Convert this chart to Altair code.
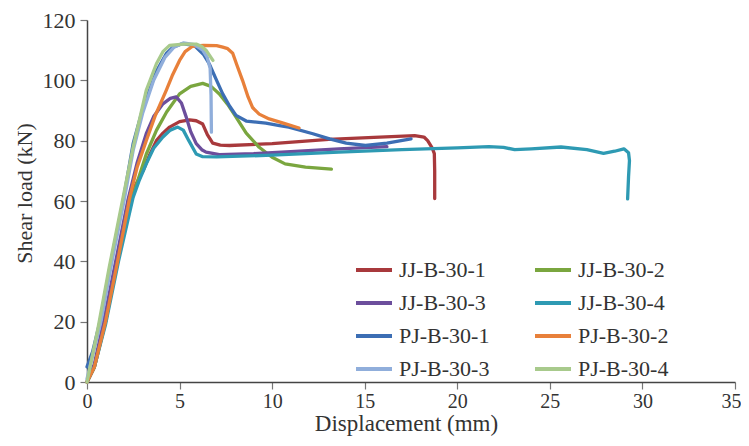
import altair as alt
import pandas as pd

series_names = ["JJ-B-30-1", "JJ-B-30-2", "JJ-B-30-3", "JJ-B-30-4",
                "PJ-B-30-1", "PJ-B-30-2", "PJ-B-30-3", "PJ-B-30-4"]
series_colors = ["#A8393C", "#7AA63F", "#6C4E9C", "#2E9AB3",
                 "#3C6EB4", "#E8803A", "#90AEDB", "#A8CA8C"]

x_ticks = [0, 5, 10, 15, 20, 25, 30, 35]
y_ticks = [0, 20, 40, 60, 80, 100, 120]

jj1_x = [0, 0.4, 1.0, 1.65, 2.3, 2.6, 3.03, 3.4, 3.75, 4.1, 4.46, 5.0, 5.54, 5.9, 6.25, 6.5, 6.79, 7.2, 7.7, 10.0, 13.06, 15.5, 17.7, 18.2, 18.4, 18.65, 18.76, 18.78, 18.78]
jj1_y = [0, 5, 20, 40, 59, 65, 70, 75.5, 80, 82.5, 84.5, 86.3, 86.9, 86.6, 85.5, 82, 79.2, 78.5, 78.4, 79, 80.4, 81.1, 81.7, 81.2, 80, 77.5, 75.7, 70, 60.8]

jj2_x = [0, 0.4, 1.0, 1.65, 2.3, 2.7, 3.2, 3.75, 4.3, 5.0, 5.6, 6.25, 6.7, 7.15, 7.6, 8.05, 8.6, 9.3, 10.0, 10.7, 11.8, 13.2]
jj2_y = [0, 5, 20, 40, 58, 66, 75.5, 83.4, 89.5, 95.5, 98, 99, 98, 95.5, 92, 87.8, 82.5, 77.8, 74.5, 72.3, 71.2, 70.6]

jj3_x = [0, 0.4, 0.9, 1.55, 2.2, 2.7, 3.2, 3.6, 4.1, 4.5, 4.82, 5.1, 5.36, 5.6, 5.9, 6.2, 6.43, 7.15, 9.0, 11.0, 13.6, 16.2]
jj3_y = [0, 6, 20, 40, 60, 72.5, 82.3, 88, 92.2, 94, 94.5, 92.5, 87.8, 83, 79, 77, 76.2, 75.4, 75.7, 76.4, 77.3, 78]

jj4_x = [0, 0.4, 1.0, 1.7, 2.49, 2.8, 3.2, 3.6, 4.1, 4.5, 4.9, 5.2, 5.5, 5.9, 6.25, 7.0, 10.0, 13.6, 17.0, 20.0, 21.7, 22.5, 23.1, 24.0, 25.6, 27.0, 27.9, 28.5, 29.0, 29.25, 29.3, 29.25, 29.2]
jj4_y = [0, 5, 19, 40, 61.2, 66.5, 72.3, 77.5, 81.2, 83.5, 84.5, 83.5, 80, 75.6, 74.7, 74.6, 75.2, 76.2, 77, 77.6, 78.0, 77.8, 77, 77.3, 77.9, 77, 75.8, 76.5, 77.3, 76, 73.4, 68, 60.7]

pj1_x = [0, 0.3, 0.7, 1.3, 1.95, 2.49, 3.03, 3.75, 4.3, 4.64, 5.18, 5.8, 6.3, 6.6, 7.0, 7.33, 7.7, 8.05, 8.6, 9.66, 10.4, 10.9, 12.2, 13.1, 14.0, 15.04, 16.2, 17.5]
pj1_y = [5, 10, 20, 40, 60, 79, 91, 103, 109, 111, 112.2, 111.5, 108.5, 105.5, 100, 95.5, 91.5, 88.4, 86.5, 85.8, 85, 84.5, 82.3, 80.6, 79.2, 78.4, 79.2, 80.6]

pj2_x = [0, 0.4, 1.0, 1.65, 2.31, 2.7, 3.2, 3.7, 4.28, 4.6, 5.0, 5.3, 5.7, 6.3, 7.0, 7.33, 7.6, 7.87, 8.1, 8.4, 8.7, 8.94, 9.3, 9.84, 10.6, 11.45]
pj2_y = [0, 5, 20, 40, 61.2, 71, 80, 88.5, 96.7, 101.5, 106.6, 109.5, 111.3, 111.6, 111.5, 111, 110.5, 109, 105, 100, 94.5, 91, 88.8, 87.2, 85.8, 84.2]

pj3_x = [0, 0.75, 1.35, 2.0, 2.5, 3.0, 3.6, 4.2, 4.7, 5.2, 5.8, 6.25, 6.5, 6.65, 6.7, 6.72]
pj3_y = [1, 20, 40, 60, 77, 89, 100, 107.5, 111, 112.4, 111.8, 110, 107.5, 104, 95, 82.8]

pj4_x = [0, 0.6, 1.2, 1.95, 2.49, 3.2, 3.75, 4.1, 4.46, 5.2, 5.9, 6.2, 6.43, 6.8]
pj4_y = [0, 18, 38, 61.2, 77.8, 96.7, 105.5, 109.5, 111.6, 112, 112, 111.2, 110, 106.6]

all_x = [jj1_x, jj2_x, jj3_x, jj4_x, pj1_x, pj2_x, pj3_x, pj4_x]
all_y = [jj1_y, jj2_y, jj3_y, jj4_y, pj1_y, pj2_y, pj3_y, pj4_y]

rows = []
for name, xs, ys in zip(series_names, all_x, all_y):
    for i, (xv, yv) in enumerate(zip(xs, ys)):
        rows.append({"series": name, "i": i, "disp": xv, "load": yv})
df = pd.DataFrame(rows)

font = "Liberation Serif"

chart = alt.Chart(df).mark_line(strokeWidth=3.3, strokeJoin="round", strokeCap="round").encode(
    x=alt.X("disp:Q", title="Displacement (mm)",
            scale=alt.Scale(domain=[0, 35], nice=False),
            axis=alt.Axis(values=x_ticks, format="d",
                          grid=False, tickSize=7, labelPadding=2,
                          labelAlign={"condition": {"test": "datum.value == 35", "value": "right"}, "value": "center"},
                          labelOffset={"condition": {"test": "datum.value == 35", "value": 6}, "value": 0},
                          labelFontSize=20, titleFontSize=23, titlePadding=1, titleX=319)),
    y=alt.Y("load:Q", title="Shear load (kN)",
            scale=alt.Scale(domain=[0, 120], nice=False),
            axis=alt.Axis(values=y_ticks, format="d",
                          grid=False, tickSize=7, labelPadding=5,
                          labelFontSize=22, titleFontSize=22, titlePadding=6, titleY=173)),
    color=alt.Color("series:N", sort=series_names,
                    scale=alt.Scale(domain=series_names, range=series_colors),
                    legend=alt.Legend(title=None, orient="none", legendX=267, legendY=230,
                                      direction="horizontal",
                                      columns=2, symbolType="stroke", symbolSize=1296,
                                      symbolStrokeWidth=4, labelFontSize=22, labelOffset=5,
                                      columnPadding=37, rowPadding=2, padding=0,
                                      labelFont=font, labelColor="#333333", labelLimit=200)),
    order="i:Q",
).properties(
    width=648, height=362,
    autosize=alt.AutoSizeParams(type="none"),
    padding={"left": 79, "top": 12, "right": 6, "bottom": 56},
).configure_axis(
    domainColor="#444444", domainWidth=1.5, tickColor="#777777", tickWidth=1.2,
    labelFont=font, titleFont=font, labelColor="#333333", titleColor="#333333",
    titleFontWeight="normal",
).configure_view(stroke=None)

chart.save("out.html", embed_options={"renderer": "svg", "actions": False})
